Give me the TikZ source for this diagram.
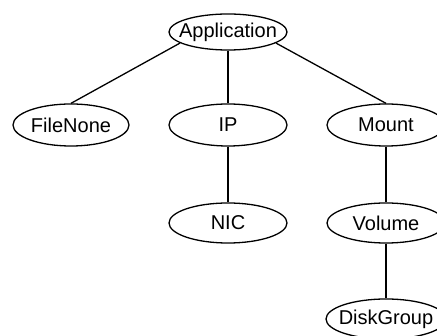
\documentclass[tikz,border=0pt]{standalone}
\usepackage{fontspec}
\setmainfont{Liberation Sans}
\usetikzlibrary{shapes.geometric}
\begin{document}
\begin{tikzpicture}[x=1pt,y=-1pt,
    res/.style={draw,ellipse,line width=1.3pt,inner sep=0pt,
      minimum width=118pt,minimum height=42pt,
      font=\fontsize{20}{23}\selectfont},
    link/.style={line width=1.3pt}]
  \useasboundingbox (0,0) rectangle (437,336);
        \node[res,minimum height=36pt] (app) at (228,32) {\makebox[0pt]{Application}};
        \node[res,minimum width=116pt] (filenone) at (71,125) {\makebox[0pt]{FileNone}};
        \node[res] (ip) at (228,125) {\makebox[0pt]{IP}};
        \node[res] (mount) at (386,125) {\makebox[0pt]{Mount}};
        \node[res,minimum height=40pt] (nic) at (228,223) {\makebox[0pt]{NIC}};
        \node[res,minimum height=40pt] (volume) at (386,223) {\makebox[0pt]{Volume}};
        \node[res,minimum width=120pt,minimum height=40pt] (diskgroup) at (386,319) {\makebox[0pt]{DiskGroup}};
        \draw[link] (app.193) -- (filenone.north);
        \draw[link] (app) -- (ip);
        \draw[link] (app.347) -- (mount.north);
        \draw[link] (ip) -- (nic);
        \draw[link] (mount) -- (volume);
        \draw[link] (volume) -- (diskgroup);
      \end{tikzpicture}
\end{document}
